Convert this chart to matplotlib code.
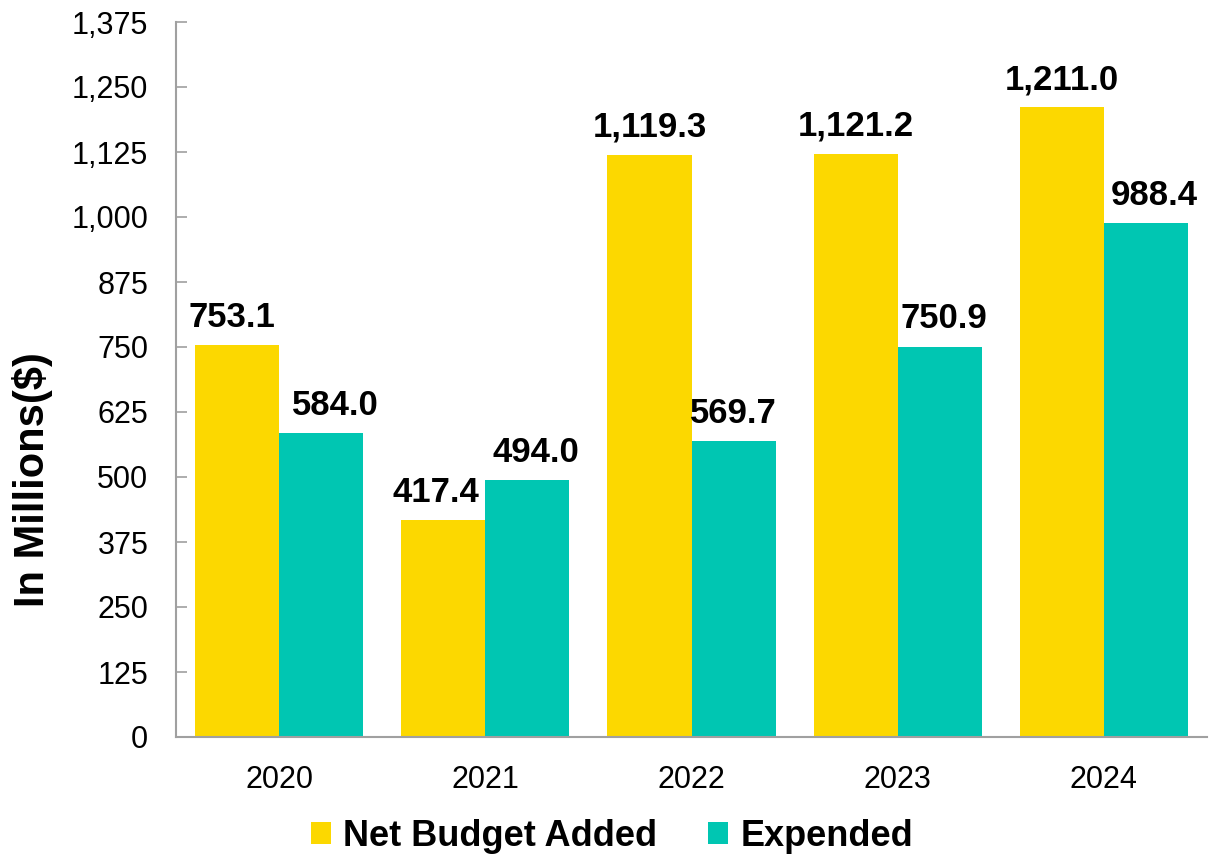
import matplotlib
matplotlib.use("Agg")
import matplotlib.pyplot as plt
import numpy as np

years = ["2020", "2021", "2022", "2023", "2024"]
net_budget = [753.1, 417.4, 1119.3, 1121.2, 1211.0]
expended = [584.0, 494.0, 569.7, 750.9, 988.4]
series_names = ["Net Budget Added", "Expended"]
y_ticks = [0, 125, 250, 375, 500, 625, 750, 875, 1000, 1125, 1250, 1375]
y_tick_labels = ["0", "125", "250", "375", "500", "625", "750", "875",
                 "1,000", "1,125", "1,250", "1,375"]
y_label = "In Millions($)"

YELLOW = "#FCD800"
TEAL = "#00C6B2"
SPINE = "#A0A0A0"

plt.rcParams['font.family'] = ['Liberation Sans', 'DejaVu Sans']

fig = plt.figure(figsize=(12.16, 8.57), dpi=100)
ax = fig.add_axes([176/1216, 1-737/857, (1207-176)/1216, (737-22)/857])

x = np.arange(len(years))
w = 0.408
b1 = ax.bar(x - w/2, net_budget, width=w, color=YELLOW, label=series_names[0], zorder=2)
b2 = ax.bar(x + w/2, expended, width=w, color=TEAL, label=series_names[1], zorder=2)

# small horizontal nudges of labels as in the reference
dx1 = [-4, -5, 0, 0, 0]
dx2 = [10, 6, 0, 3, 6]
for rect, v, d in zip(b1, net_budget, dx1):
    ax.annotate(f"{v:,.1f}", (rect.get_x() + rect.get_width()/2, v),
                xytext=(d, 13), textcoords="offset points", ha="center",
                va="baseline", fontsize=25, fontweight="bold", color="black")
for rect, v, d in zip(b2, expended, dx2):
    ax.annotate(f"{v:,.1f}", (rect.get_x() + rect.get_width()/2, v),
                xytext=(d, 13), textcoords="offset points", ha="center",
                va="baseline", fontsize=25, fontweight="bold", color="black")

ax.set_xlim(-0.5, len(years) - 0.5)
ax.set_ylim(0, 1375)
ax.set_yticks(y_ticks)
ax.set_yticklabels(y_tick_labels)
ax.set_xticks(x)
ax.set_xticklabels(years)

ax.tick_params(axis='y', direction='in', length=8, width=1.2, color=SPINE,
               labelsize=22, pad=20, labelcolor='black')
ax.tick_params(axis='x', length=0, labelsize=22, pad=20, labelcolor='black')

for s in ['top', 'right']:
    ax.spines[s].set_visible(False)
for s in ['left', 'bottom']:
    ax.spines[s].set_color(SPINE)
    ax.spines[s].set_linewidth(1.5)

fig.text(33/1216, 0.441, y_label, rotation=90, ha='center', va='center',
         fontsize=30, fontweight='bold')

fig.legend(handles=[b1, b2], labels=series_names, loc='center',
           bbox_to_anchor=(612/1216, 1-836/857), ncol=2, frameon=False,
           prop={'size': 26, 'weight': 'bold'}, handlelength=0.55,
           handleheight=0.55, handletextpad=0.35, columnspacing=1.4,
           borderaxespad=0, borderpad=0)

fig.savefig("out.png", dpi=100)
